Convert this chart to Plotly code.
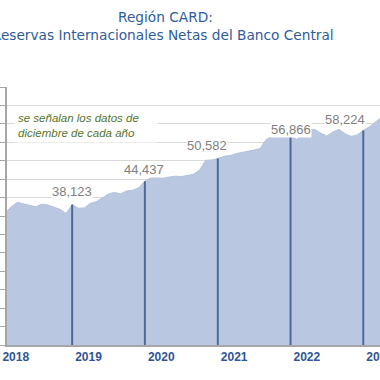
import plotly.graph_objects as go

# ---- data ----
months = [f"{y}-{m:02d}-01" for y in range(2018, 2024) for m in range(1, 13)][:63]
reserves = [
    36000, 37600, 38700, 38300, 38000, 37500, 38200, 38000, 37400, 36800, 35700, 38123,
    37100, 37200, 38400, 38900, 39900, 41000, 41400, 41000, 41800, 42000, 42700, 44437,
    45400, 45500, 45300, 45600, 45800, 45700, 46000, 46300, 47500, 50100, 50200, 50582,
    51200, 51400, 51900, 52200, 52500, 52900, 53300, 55800, 56500, 56600, 56300, 56866,
    55800, 57500, 58400, 58500, 57500, 56700, 57800, 58500, 57300, 56600, 57000, 58224,
    59200, 60600, 61700,
]
december_dates = ["2018-12-01", "2019-12-01", "2020-12-01", "2021-12-01", "2022-12-01"]
december_values = [38123, 44437, 50582, 56866, 58224]
year_labels = ["2018", "2019", "2020", "2021", "2022", "2023"]
year_tick_dates = ["2018-02-21", "2019-02-21", "2020-02-21", "2021-02-21", "2022-02-21", "2023-02-21"]

# label offsets (pixels) for december values
label_xshift = [0, -1, -11, 0, -18]
label_yshift = [13, 12, 13, 6, 11]

# plot-area geometry (pixels)
PL, PR, PT, PB = 7, 380, 87, 345


def px_x(p):
    return (p - PL) / (PR - PL)


def px_y(p):
    return (PB - p) / (PB - PT)


fig = go.Figure()
fig.add_trace(go.Scatter(
    x=months, y=reserves, mode="lines", fill="tozeroy",
    fillcolor="#BAC7E0", line=dict(color="#B3C2DD", width=1),
    hoverinfo="skip", showlegend=False,
))

vx, vy = [], []
for d, v in zip(december_dates, december_values):
    vx += [d, d, None]
    vy += [0, v, None]
fig.add_trace(go.Scatter(
    x=vx, y=vy, mode="lines", line=dict(color="#4A6B9A", width=2),
    hoverinfo="skip", showlegend=False,
))

for d, v, xs, ys in zip(december_dates, december_values, label_xshift, label_yshift):
    fig.add_annotation(
        x=d, y=v, text=f"{v:,}", showarrow=False, xshift=xs, yshift=ys,
        yanchor="middle", font=dict(family="Liberation Sans", size=13, color="#808080"),
        bgcolor="white", borderpad=0,
    )

fig.add_annotation(
    xref="paper", yref="paper", x=px_x(165), y=px_y(17), xanchor="center", yanchor="middle",
    text="Región CARD:", showarrow=False,
    font=dict(family="DejaVu Sans", size=13.7, color="#2E5C9A"),
)
fig.add_annotation(
    xref="paper", yref="paper", x=px_x(163), y=px_y(35), xanchor="center", yanchor="middle",
    text="Reservas Internacionales Netas del Banco Central", showarrow=False,
    font=dict(family="DejaVu Sans", size=13.7, color="#2E5C9A"),
)

fig.add_annotation(
    xref="paper", yref="paper", x=px_x(14), y=px_y(125), xanchor="left", yanchor="middle",
    align="left",
    text="<i>se señalan los datos de<br>diciembre de cada año</i>", showarrow=False,
    font=dict(family="Liberation Sans", size=11.5, color="#55752B"),
    bgcolor="white", borderpad=3, width=136,
)

fig.update_layout(
    width=380, height=380,
    margin=dict(l=PL, r=380 - PR, t=PT, b=380 - PB, autoexpand=False),
    paper_bgcolor="white", plot_bgcolor="white",
    xaxis=dict(
        type="date", range=["2018-01-08", "2023-02-23"], automargin=False,
        tickvals=year_tick_dates, ticktext=year_labels, ticklabeloverflow="allow",
        showgrid=False, showline=True, linecolor="#A6A6A6", linewidth=2,
        ticks="", tickfont=dict(family="Liberation Sans", size=12, color="#2F5597", weight="bold"),
        zeroline=False,
    ),
    yaxis=dict(
        range=[0, 70000], dtick=5000, showgrid=True, gridcolor="#D9D9D9", gridwidth=1,
        automargin=False,
        showline=True, linecolor="#A6A6A6", linewidth=2, ticks="outside", ticklen=5,
        tickcolor="#A6A6A6", showticklabels=False, zeroline=False,
    ),
)

fig.write_html(
    "out.html",
    config={"displayModeBar": False},
    post_script="document.body.style.margin='0';",
)
